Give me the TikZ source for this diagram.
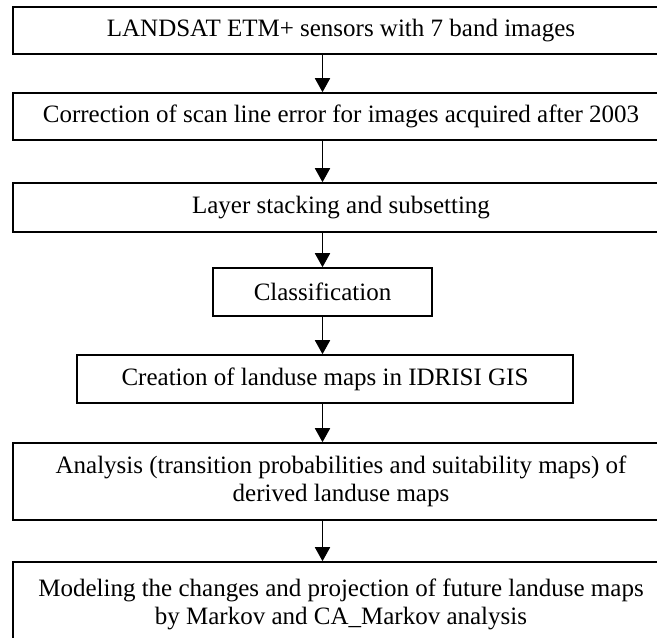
\documentclass[tikz,border=0pt]{standalone}
\usepackage{fontspec}
\setmainfont{Liberation Serif}
\usetikzlibrary{arrows.meta}
\begin{document}
\begin{tikzpicture}[x=0.5pt, y=-0.5pt, font=\fontsize{12.5}{14}\selectfont,
    box/.style={draw, line width=0.8pt, align=center, inner sep=0pt},
    flow/.style={-{Triangle[length=7pt,width=7.5pt]}, line width=0.9pt}]
  \clip (0,0) rectangle (657,637);
  \node[box, minimum width=328pt, minimum height=23.5pt] (L) at (341,30.5) {LANDSAT ETM+ sensors with 7 band images};
  \node[box, minimum width=328pt, minimum height=23.5pt] (C) at (341,116.5) {Correction of scan line error for images acquired after 2003};
  \node[box, minimum width=328pt, minimum height=24.5pt] (S) at (341,207.5) {Layer stacking and subsetting};
  \node[box, minimum width=109.5pt, minimum height=24pt] (K) at (322.5,292) {Classification};
  \node[box, minimum width=248pt, minimum height=24pt] (M) at (325,379) {Creation of landuse maps in IDRISI GIS};
  \node[box, minimum width=328pt, minimum height=38.5pt] (A) at (341,481.5) {
    Analysis (transition probabilities and suitability maps) of\\
    derived landuse maps
  };
  \node[box, minimum width=328pt, minimum height=42pt] (P) at (341,604) {
    Modeling the changes and projection of future landuse maps\\
    by Markov and CA\_Markov analysis
  };
  \foreach\a/\b in {L/C, C/S, S/K, K/M, M/A, A/P}{
    \draw[flow] (\a.south -| K.north) -- (\b.north -| K.north);
  }
\end{tikzpicture}
\end{document}
